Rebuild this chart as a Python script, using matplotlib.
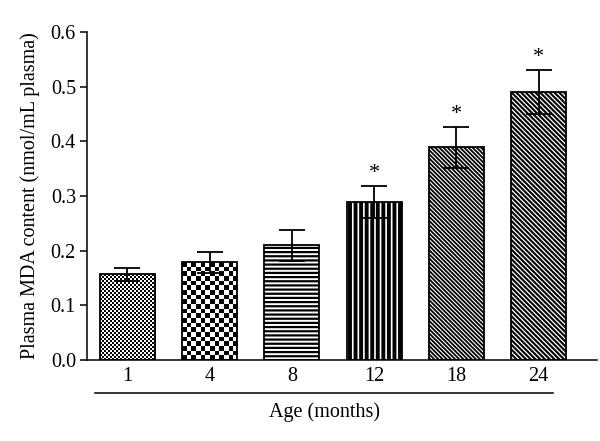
import numpy as np
import matplotlib
matplotlib.use("Agg")
import matplotlib.pyplot as plt

plt.rcParams['font.family'] = ['Liberation Serif', 'DejaVu Serif']

# data
ages = ["1", "4", "8", "12", "18", "24"]
mda = [0.157, 0.179, 0.210, 0.289, 0.389, 0.490]
sem = [0.012, 0.019, 0.028, 0.029, 0.037, 0.040]
signif = [False, False, False, True, True, True]

fig = plt.figure(figsize=(6.0, 4.41), dpi=100)
ax = fig.add_axes([0.145, 0.1837, 0.85, 0.7437])

x = np.arange(len(ages))
width = 0.67
ax.set_xlim(-0.49, 5.71)
ax.set_ylim(0, 0.6)

hatches = [None, None, '----', '|||', '\\' * 8, '\\' * 7]
faces = ['white', 'white', 'white', 'black', 'white', 'white']
hcols = ['black', 'black', 'black', 'white', 'black', 'black']
hlw = [1.0, 1.0, 1.6, 1.2, 1.3, 1.5]

bars = []
for i in range(len(ages)):
    plt.rcParams['hatch.color'] = hcols[i]
    plt.rcParams['hatch.linewidth'] = hlw[i]
    b = ax.bar(x[i], mda[i], width, color=faces[i], edgecolor=hcols[i],
               hatch=hatches[i], linewidth=0, zorder=2)[0]
    bars.append(b)
    # outline on top
    ax.bar(x[i], mda[i], width, fill=False, edgecolor='black', linewidth=1.3, zorder=3)

# checkerboard fills for the first two bars
cells = [2.0, 4.6]
for i, cpx in enumerate(cells):
    b = bars[i]
    wpx = width / 6.2 * 510
    hpx = mda[i] / 0.6 * 328
    nx = max(1, int(round(wpx / cpx)))
    ny = max(1, int(round(hpx / cpx)))
    board = (np.add.outer(np.arange(ny), np.arange(nx)) % 2).astype(float)
    im = ax.imshow(board, cmap='gray', vmin=0, vmax=1, aspect='auto',
                   interpolation='nearest',
                   extent=[x[i] - width / 2, x[i] + width / 2, 0, mda[i]], zorder=2)
    im.set_clip_path(b)
ax.set_xlim(-0.49, 5.71)
ax.set_ylim(0, 0.6)

ax.errorbar(x, mda, yerr=sem, fmt='none', ecolor='black', elinewidth=1.3,
            capsize=9.5, capthick=1.3, zorder=4)

for i in range(len(ages)):
    if signif[i]:
        ax.text(x[i], mda[i] + sem[i] + 0.006, '*', ha='center', va='bottom',
                fontsize=16)

ax.spines['top'].set_visible(False)
ax.spines['right'].set_visible(False)
ax.spines['left'].set_linewidth(1.1)
ax.spines['bottom'].set_linewidth(1.1)
ax.set_yticks(np.arange(0, 0.61, 0.1))
ax.set_yticklabels(['%.1f' % v for v in np.arange(0, 0.61, 0.1)])
ax.tick_params(axis='y', direction='out', length=5, width=1.1, labelsize=14.5, pad=3)
ax.set_xticks(x)
ax.set_xticklabels(ages)
ax.tick_params(axis='x', length=0, labelsize=14.5, pad=5)

ax.set_ylabel('Plasma MDA content (nmol/mL plasma)', fontsize=14.5, labelpad=8)

# line under the tick labels and the axis title
ax.plot([0.016, 0.914], [-0.10, -0.10], transform=ax.transAxes, color='black',
        linewidth=1.1, clip_on=False)
ax.text(0.465, -0.128, 'Age (months)', transform=ax.transAxes, ha='center',
        va='top', fontsize=14.5)

fig.savefig('out.png', dpi=100)
